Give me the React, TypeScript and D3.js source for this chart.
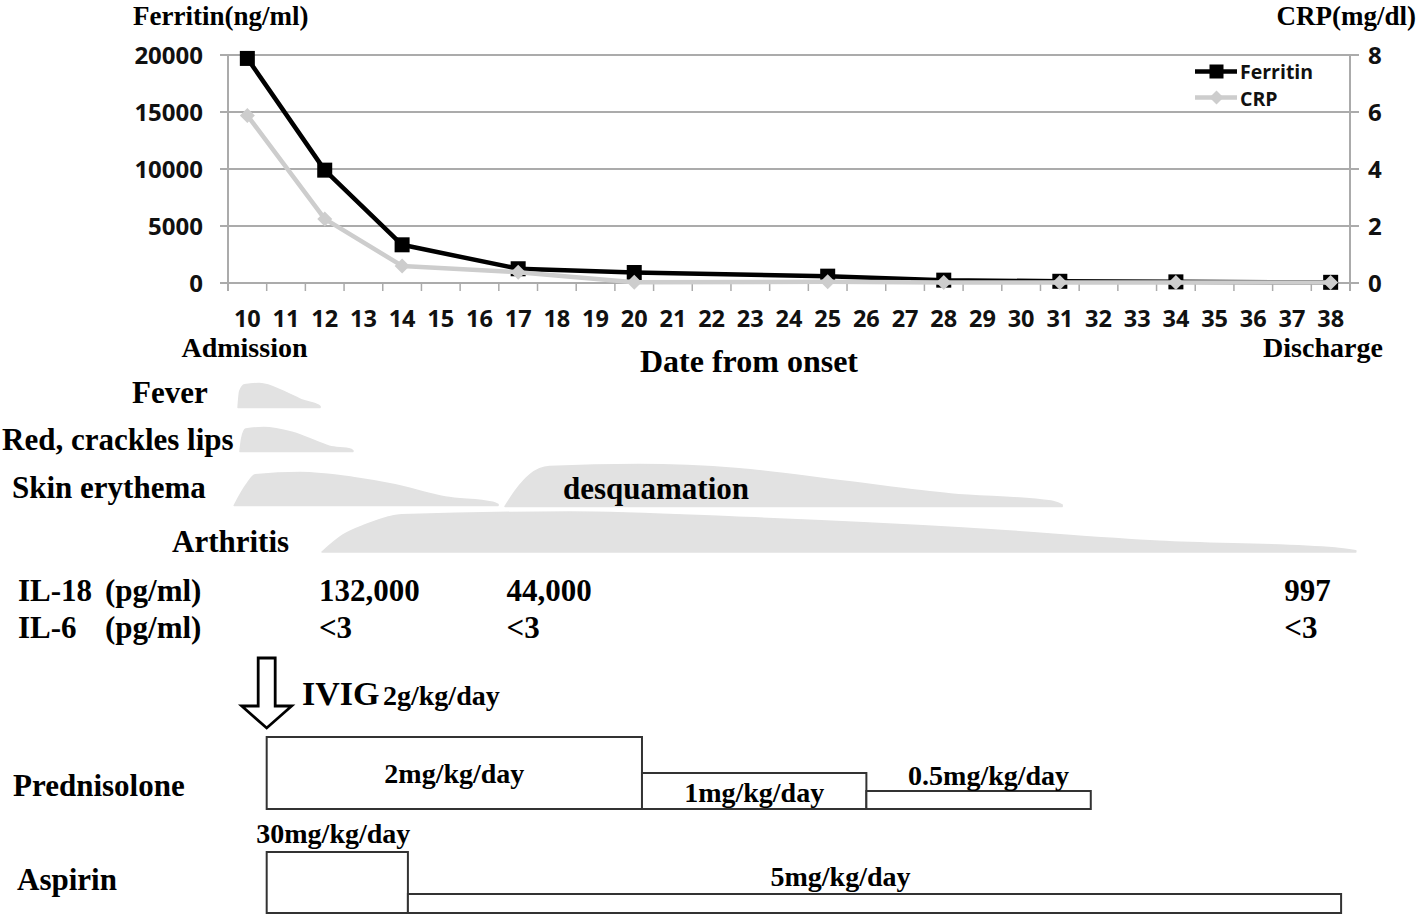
import React from 'react';
import * as d3 from 'd3';

// ---------- data ----------
const dayLabels = [10, 11, 12, 13, 14, 15, 16, 17, 18, 19, 20, 21, 22, 23, 24, 25, 26, 27, 28, 29, 30, 31, 32, 33, 34, 35, 36, 37, 38];
const sampleDays = [10, 12, 14, 17, 20, 25, 28, 31, 34, 38];
const ferritin = [19700, 9900, 3350, 1250, 920, 600, 250, 150, 100, 60];
const crp = [5.88, 2.25, 0.6, 0.38, 0.03, 0.04, 0.02, 0.02, 0.02, 0.02];
const ferritinTicks = [0, 5000, 10000, 15000, 20000];
const crpTicks = [0, 2, 4, 6, 8];

// symptoms: start / end day and relative profile [t, intensity]
const symptomNames = ['Fever', 'Red, crackles lips', 'Skin erythema', 'desquamation', 'Arthritis'];
const symptomStart = [9.76, 9.81, 9.66, 16.66, 11.93];
const symptomEnd = [11.88, 12.73, 16.48, 31.06, 38.65];
const feverProfile = [[0, 0], [0.02, 0.68], [0.08, 0.95], [0.26, 1], [0.59, 0.62], [0.79, 0.3], [0.98, 0.1], [1, 0.04]];
const lipsProfile = [[0, 0], [0.015, 0.55], [0.05, 0.94], [0.21, 1], [0.46, 0.8], [0.7, 0.38], [0.79, 0.22], [0.98, 0.1], [1, 0.03]];
const skinProfile = [[0, 0], [0.045, 0.62], [0.08, 0.93], [0.25, 1], [0.45, 0.85], [0.61, 0.63], [0.8, 0.26], [0.98, 0.1], [1, 0.03]];
const desqProfile = [[0, 0], [0.02, 0.4], [0.045, 0.76], [0.08, 0.95], [0.24, 1], [0.42, 0.9], [0.61, 0.6], [0.8, 0.3], [0.98, 0.13], [1, 0.04]];
const arthritisProfile = [[0, 0], [0.02, 0.42], [0.042, 0.68], [0.077, 0.93], [0.24, 1], [0.41, 0.86], [0.62, 0.6], [0.81, 0.27], [0.98, 0.1], [1, 0.03]];
const symptomProfiles = [feverProfile, lipsProfile, skinProfile, desqProfile, arthritisProfile];

// cytokines
const cytokineDays = [11.85, 16.7, 36.8];
const il18 = ['132,000', '44,000', '997'];
const il6 = ['<3', '<3', '<3'];

// treatments
const ivigDay = 10.5;
const predStart = [10.5, 20.2, 26.0];
const predEnd = [20.2, 26.0, 31.8];
const predDose = [2, 1, 0.5];
const predLabels = ['2mg/kg/day', '1mg/kg/day', '0.5mg/kg/day'];
const aspStart = [10.5, 14.15];
const aspEnd = [14.15, 38.27];
const aspDose = [30, 5];
const aspLabels = ['30mg/kg/day', '5mg/kg/day'];

// ---------- layout ----------
const W = 1418;
const H = 916;
const left = 228;
const right = 1350;
const top = 55;
const bottom = 283;
const serif = "'Liberation Serif', 'Times New Roman', serif";
const sans = "'Open Sans', 'DejaVu Sans', sans-serif";
const gridColor = '#ababab';
const shapeFill = '#e2e2e2';

export default function App() {
  const xBand = d3.scaleBand<number>().domain(dayLabels).range([left, right]).padding(0);
  const xDay = d3.scaleLinear().domain([9.5, 38.5]).range([left, right]);
  const yF = d3.scaleLinear().domain([0, 20000]).range([bottom, top]);
  const yC = d3.scaleLinear().domain([0, 8]).range([bottom, top]);
  const cx = (d: number) => (xBand(d) as number) + xBand.bandwidth() / 2;

  const fLine = d3.line<number>().x((_, i) => cx(sampleDays[i])).y((d) => yF(d))(ferritin) as string;
  const cLine = d3.line<number>().x((_, i) => cx(sampleDays[i])).y((d) => yC(d))(crp) as string;

  const boundaries = [...dayLabels.map((d) => xBand(d) as number), right];

  // symptom rows: baseline and max height
  const rowBase = [407.5, 451.5, 505.5, 506.5, 552];
  const rowHeight = [24, 24, 33, 42, 40];

  const shapes = symptomProfiles.map((prof, k) => {
    const s = symptomStart[k];
    const e = symptomEnd[k];
    const area = d3
      .area<number[]>()
      .x((p) => xDay(s + p[0] * (e - s)))
      .y0(rowBase[k])
      .y1((p) => rowBase[k] - p[1] * rowHeight[k])
      .curve(d3.curveMonotoneX);
    return area(prof) as string;
  });

  const predH = d3.scaleLinear().domain([0, 2]).range([0, 72]);
  const predBase = 809;
  const aspH = d3.scaleLinear().domain([5, 30]).range([19, 61]);
  const aspBase = 913;

  const ax = xDay(ivigDay);
  const arrowPath = [
    [ax - 8.5, 658],
    [ax + 8.5, 658],
    [ax + 8.5, 706],
    [ax + 25, 706],
    [ax, 728],
    [ax - 25, 706],
    [ax - 8.5, 706],
  ];

  return (
    <svg width={W} height={H} style={{ position: 'absolute', left: 0, top: 0, background: '#fff' }}>
      <rect x={0} y={0} width={W} height={H} fill="#fff" />
      {/* axis titles */}
      <text x={133} y={25} fontFamily={serif} fontWeight="bold" fontSize={27}>Ferritin(ng/ml)</text>
      <text x={1416} y={25} textAnchor="end" fontFamily={serif} fontWeight="bold" fontSize={27}>CRP(mg/dl)</text>

      {/* grid */}
      {ferritinTicks.map((t) => (
        <g key={'g' + t}>
          <line x1={left - 8} x2={right + 9} y1={yF(t)} y2={yF(t)} stroke={gridColor} strokeWidth={2} />
          <text x={203} y={yF(t) + 8.5} textAnchor="end" fontFamily={sans} fontWeight="bold" fontSize={24} fill="#111">{t}</text>
        </g>
      ))}
      {crpTicks.map((t) => (
        <text key={'c' + t} x={1368} y={yC(t) + 8.5} fontFamily={sans} fontWeight="bold" fontSize={24} fill="#111">{t}</text>
      ))}
      <line x1={left} x2={left} y1={top} y2={bottom + 8} stroke={gridColor} strokeWidth={2} />
      <line x1={right} x2={right} y1={top} y2={bottom + 8} stroke={gridColor} strokeWidth={2} />
      {boundaries.map((b, i) => (
        <line key={'t' + i} x1={b} x2={b} y1={bottom} y2={bottom + 8} stroke={gridColor} strokeWidth={1.5} />
      ))}
      {dayLabels.map((d) => (
        <text key={'x' + d} x={cx(d)} y={327} textAnchor="middle" fontFamily={sans} fontWeight="bold" fontSize={23.5} fill="#111">{d}</text>
      ))}

      {/* series */}
      <path d={fLine} fill="none" stroke="#000" strokeWidth={4.5} strokeLinejoin="round" />
      {ferritin.map((v, i) => (
        <rect key={'f' + i} x={cx(sampleDays[i]) - 7.5} y={yF(v) - 7.5} width={15} height={15} fill="#000" />
      ))}
      <path d={cLine} fill="none" stroke="#cdcdcd" strokeWidth={4.5} strokeLinejoin="round" />
      {crp.map((v, i) => {
        const x = cx(sampleDays[i]);
        const y = yC(v);
        return <path key={'cr' + i} d={`M${x},${y - 7.5}L${x + 7.5},${y}L${x},${y + 7.5}L${x - 7.5},${y}Z`} fill="#cdcdcd" />;
      })}

      {/* legend */}
      <line x1={1195} x2={1237} y1={71.5} y2={71.5} stroke="#000" strokeWidth={4.5} />
      <rect x={1216.5 - 7} y={71.5 - 7} width={14} height={14} fill="#000" />
      <text x={1240} y={78.5} fontFamily={sans} fontWeight="bold" fontSize={19.5} fill="#111">Ferritin</text>
      <line x1={1195} x2={1237} y1={97.5} y2={97.5} stroke="#cdcdcd" strokeWidth={4.5} />
      <path d={`M1216.5,90.5L1223.5,97.5L1216.5,104.5L1209.5,97.5Z`} fill="#cdcdcd" />
      <text x={1240} y={105.5} fontFamily={sans} fontWeight="bold" fontSize={19.5} fill="#111">CRP</text>

      {/* x annotations */}
      <text x={244.5} y={357} textAnchor="middle" fontFamily={serif} fontWeight="bold" fontSize={28}>Admission</text>
      <text x={1323} y={357} textAnchor="middle" fontFamily={serif} fontWeight="bold" fontSize={28}>Discharge</text>
      <text x={749} y={372} textAnchor="middle" fontFamily={serif} fontWeight="bold" fontSize={32}>Date from onset</text>

      {/* symptoms */}
      {shapes.map((p, i) => (
        <path key={'s' + i} d={p} fill={shapeFill} stroke={shapeFill} strokeWidth={1.5} strokeLinejoin="round" />
      ))}
      <text x={132} y={403} fontFamily={serif} fontWeight="bold" fontSize={31}>{symptomNames[0]}</text>
      <text x={2} y={450} fontFamily={serif} fontWeight="bold" fontSize={31}>{symptomNames[1]}</text>
      <text x={12} y={498} fontFamily={serif} fontWeight="bold" fontSize={31}>{symptomNames[2]}</text>
      <text x={563} y={499} fontFamily={serif} fontWeight="bold" fontSize={31}>{symptomNames[3]}</text>
      <text x={172} y={552} fontFamily={serif} fontWeight="bold" fontSize={31}>{symptomNames[4]}</text>

      {/* cytokines */}
      <text x={18} y={601} fontFamily={serif} fontWeight="bold" fontSize={31}>IL-18</text>
      <text x={105} y={601} fontFamily={serif} fontWeight="bold" fontSize={31}>(pg/ml)</text>
      <text x={18} y={638} fontFamily={serif} fontWeight="bold" fontSize={31}>IL-6</text>
      <text x={105} y={638} fontFamily={serif} fontWeight="bold" fontSize={31}>(pg/ml)</text>
      {cytokineDays.map((d, i) => (
        <g key={'ck' + i}>
          <text x={xDay(d)} y={601} fontFamily={serif} fontWeight="bold" fontSize={31}>{il18[i]}</text>
          <text x={xDay(d)} y={638} fontFamily={serif} fontWeight="bold" fontSize={31}>{il6[i]}</text>
        </g>
      ))}

      {/* IVIG */}
      <path d={'M' + arrowPath.map((p) => p.join(',')).join('L') + 'Z'} fill="#fff" stroke="#000" strokeWidth={2.8} strokeLinejoin="miter" />
      <text x={302} y={705} fontFamily={serif} fontWeight="bold" fontSize={34}>IVIG</text>
      <text x={383} y={705} fontFamily={serif} fontWeight="bold" fontSize={28}>2g/kg/day</text>

      {/* Prednisolone */}
      <text x={13} y={796} fontFamily={serif} fontWeight="bold" fontSize={31}>Prednisolone</text>
      {predDose.map((d, i) => (
        <rect key={'p' + i} x={xDay(predStart[i])} y={predBase - predH(d)} width={xDay(predEnd[i]) - xDay(predStart[i])} height={predH(d)} fill="#fff" stroke="#333" strokeWidth={2} />
      ))}
      <text x={(xDay(predStart[0]) + xDay(predEnd[0])) / 2} y={783} textAnchor="middle" fontFamily={serif} fontWeight="bold" fontSize={28}>{predLabels[0]}</text>
      <text x={(xDay(predStart[1]) + xDay(predEnd[1])) / 2} y={802} textAnchor="middle" fontFamily={serif} fontWeight="bold" fontSize={28}>{predLabels[1]}</text>
      <text x={(xDay(predStart[2]) + xDay(predEnd[2])) / 2 + 10} y={785} textAnchor="middle" fontFamily={serif} fontWeight="bold" fontSize={28}>{predLabels[2]}</text>

      {/* Aspirin */}
      <text x={17} y={890} fontFamily={serif} fontWeight="bold" fontSize={31}>Aspirin</text>
      {aspDose.map((d, i) => (
        <rect key={'a' + i} x={xDay(aspStart[i])} y={aspBase - aspH(d)} width={xDay(aspEnd[i]) - xDay(aspStart[i])} height={aspH(d)} fill="#fff" stroke="#333" strokeWidth={2} />
      ))}
      <text x={(xDay(aspStart[0]) + xDay(aspEnd[0])) / 2 - 4} y={843} textAnchor="middle" fontFamily={serif} fontWeight="bold" fontSize={28}>{aspLabels[0]}</text>
      <text x={(xDay(aspStart[1]) + xDay(aspEnd[1])) / 2 - 34} y={886} textAnchor="middle" fontFamily={serif} fontWeight="bold" fontSize={28}>{aspLabels[1]}</text>
    </svg>
  );
}
